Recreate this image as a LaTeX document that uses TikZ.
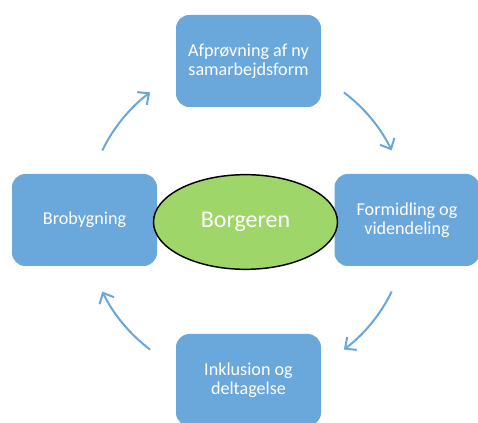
\documentclass[tikz,border=0pt]{standalone}
\usepackage{fontspec}
\setmainfont{Carlito}
\usetikzlibrary{arrows.meta,shapes.geometric}
\definecolor{boxblue}{RGB}{106,168,220}
\definecolor{citizengreen}{RGB}{159,214,106}
\definecolor{arrowblue}{RGB}{104,166,220}
\newcommand*{\CycleRadius}{120.75pt}

\begin{document}
\begin{tikzpicture}[x=0.75pt,y=0.75pt,
    step box/.style={fill=boxblue,draw=none,rounded corners=10pt,
      minimum width=108.75pt,minimum height=69pt,text=white,
      align=center,font=\fontsize{13.6}{14.3}\selectfont},
    citizen/.style={ellipse,fill=citizengreen,draw=black,line width=1.1pt,
      minimum width=138pt,minimum height=71pt,text=white,
      font=\fontsize{18}{20}\selectfont},
    cycle arrow/.style={draw=arrowblue,line width=1.5pt,
      -{Straight Barb[length=6.5pt,width=12pt]}}]
        \useasboundingbox (0,0) rectangle (478,423);
        \node[step box] (afproevning) at (248.5,362) {Afprøvning af ny\\samarbejdsform};
        \node[step box] (formidling) at (407,203) {Formidling og\\videndeling};
        \node[step box] (inklusion) at (248.5,43) {Inklusion og\\deltagelse};
        \node[step box] (brobygning) at (84.5,203) {Brobygning};
        \node[citizen] (borgeren) at (245.5,201) {Borgeren};
        \coordinate (hub) at (247,202);
        % arcs round the centre, clockwise
        \foreach \from/\to in {154/127, 53/26, -26/-53, -127/-154} {
            \draw[cycle arrow] ([shift={(\from:\CycleRadius)}]hub)
                arc[start angle=\from,end angle=\to,radius=\CycleRadius];
        }
\end{tikzpicture}
\end{document}
